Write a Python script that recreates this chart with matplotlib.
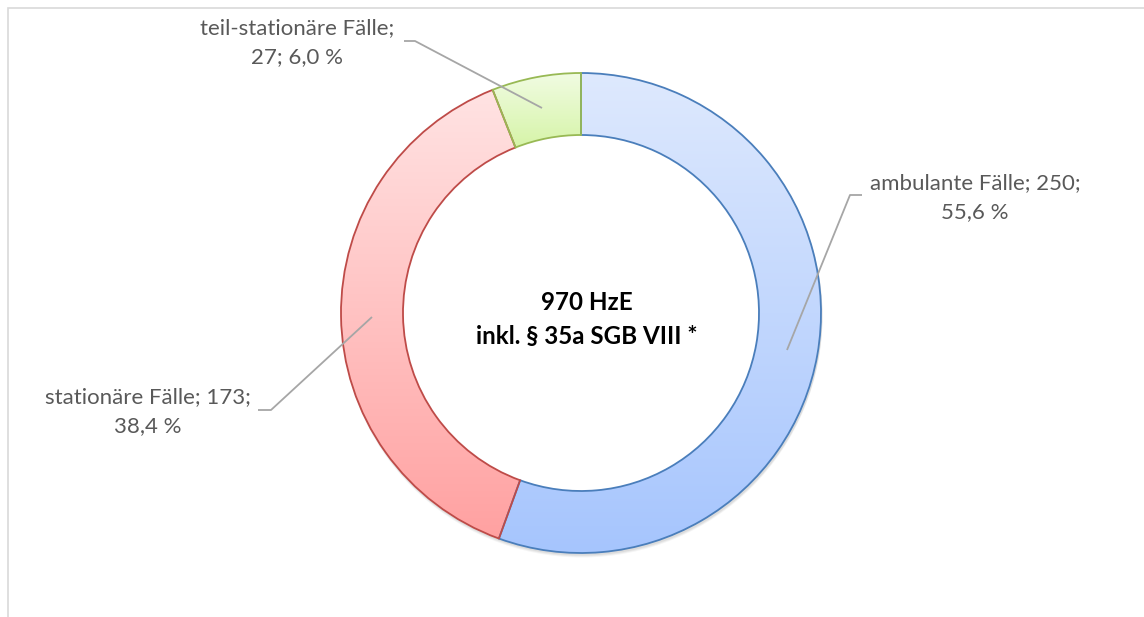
import numpy as np
import matplotlib
matplotlib.use("Agg")
import matplotlib.pyplot as plt
from matplotlib.colors import LinearSegmentedColormap
from matplotlib.patches import Wedge

# --- data ---------------------------------------------------------------
categories = ["ambulante Fälle", "stationäre Fälle", "teil-stationäre Fälle"]
counts = [250, 173, 27]
percent_labels = ["55,6 %", "38,4 %", "6,0 %"]
center_title = ["970 HzE", "inkl. § 35a SGB VIII *"]

# gradient (top, bottom) and outline colours per segment
grad_top = ["#DEE9FD", "#FFE3E3", "#F1FCE3"]
grad_bottom = ["#A6C5FE", "#FFA1A1", "#D6F4A8"]
edge_colors = ["#4A7EBB", "#BE4B48", "#98B954"]

W, H = 1144, 617
fig = plt.figure(figsize=(W / 100, H / 100), dpi=100)
ax = fig.add_axes([0, 0, 1, 1])

cx, cy = 581, H - 313
R, ring = 240, 62

# soft shadow below the ring
for k, a in enumerate([0.05, 0.05, 0.04]):
    sh = Wedge((cx + 1, cy - 2 - k), R + 0.5, 0, 360, width=ring + 1,
               facecolor="#000000", edgecolor="none", alpha=a, zorder=1)
    ax.add_patch(sh)

wedges, _ = ax.pie(counts, startangle=90, counterclock=False, radius=R,
                   center=(cx, cy), frame=True,
                   wedgeprops=dict(width=ring, linewidth=1.3))
ax.set_xlim(0, W)
ax.set_ylim(0, H)
ax.set_aspect("equal")
ax.axis("off")

# light chart frame
ax.plot([8, 8, W + 5], [-5, H - 8, H - 8], color="#D9D9D9", lw=1.2,
        solid_joinstyle="miter")

grad = np.linspace(0, 1, 256).reshape(-1, 1)
for w, top, bot, ec in zip(wedges, grad_top, grad_bottom, edge_colors):
    w.set_facecolor("none")
    w.set_edgecolor(ec)
    w.set_zorder(4)
    ext = w.get_path().get_extents()
    cmap = LinearSegmentedColormap.from_list("g", [bot, top])
    im = ax.imshow(grad, cmap=cmap, aspect="auto", origin="lower",
                   extent=[ext.x0, ext.x1, ext.y0, ext.y1], zorder=3,
                   interpolation="bilinear")
    clip = Wedge(w.center, w.r, w.theta1, w.theta2, width=w.width,
                 transform=ax.transData, facecolor="none", edgecolor="none")
    ax.add_patch(clip)
    im.set_clip_path(clip)

ax.set_xlim(0, W)
ax.set_ylim(0, H)

# white hole behind the centre text
ax.add_patch(Wedge((cx, cy), R - ring, 0, 360, facecolor="white",
                   edgecolor="none", zorder=2))

label_font = ["Lato", "DejaVu Sans"]
label_color = "#595959"
lfs = 16.0

# data labels: (centre x, first line y, second line y) in pixel rows
label_pos = [(975, 183, 212), (148, 397, 426), (297, 28, 57)]
for cat, n, pct, (lx, y1, y2) in zip(categories, counts, percent_labels, label_pos):
    if cat.startswith("teil"):
        l1, l2 = f"{cat};", f"{n}; {pct}"
    else:
        l1, l2 = f"{cat}; {n};", pct
    ax.text(lx, H - y1, l1, ha="center", va="center", fontsize=lfs,
            family=label_font, color=label_color, zorder=6)
    ax.text(lx, H - y2, l2, ha="center", va="center", fontsize=lfs,
            family=label_font, color=label_color, zorder=6)

# leader lines
leaders = [
    [(862, 195), (850, 195), (787, 350)],
    [(258, 410), (271, 410), (372, 317)],
    [(404, 41), (415, 41), (542, 108)],
]
for pts in leaders:
    xs = [p[0] for p in pts]
    ys = [H - p[1] for p in pts]
    ax.plot(xs, ys, color="#A6A6A6", lw=1.3, zorder=7,
            solid_capstyle="butt")

# centre caption
for txt, yy in zip(center_title, [303, 336]):
    ax.text(587, H - yy, txt, ha="center", va="center", fontsize=17.4,
            fontweight="bold", family=label_font, color="#000000", zorder=6)

fig.savefig("out.png", dpi=100)
